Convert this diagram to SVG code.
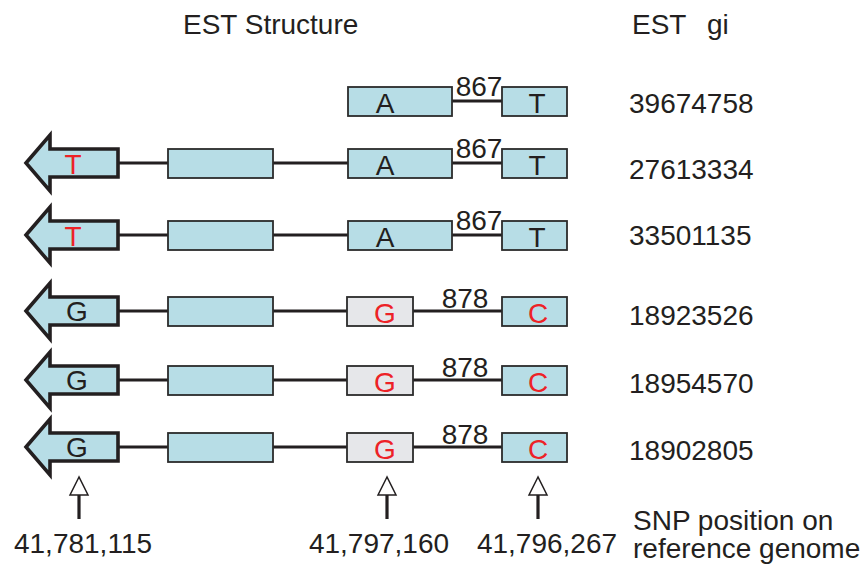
<svg xmlns="http://www.w3.org/2000/svg" width="863" height="581" viewBox="0 0 863 581">
<style>
text{font-family:"Liberation Sans",Arial,sans-serif;font-size:28px;fill:#231f20}
.red{fill:#ed2227}
.mid{text-anchor:middle}
.box{fill:#b7dde6;stroke:#2b2b2b;stroke-width:1.8}
.gbox{fill:#e6e7ea;stroke:#2b2b2b;stroke-width:1.8}
.arr{fill:#b7dde6;stroke:#231f20;stroke-width:3.6;stroke-linejoin:miter}
.ln{stroke:#231f20;stroke-width:3.2;fill:none}
.up{fill:#fff;stroke:#231f20;stroke-width:1.5}
</style>
<defs>
<polygon id="arrowShape" class="arr" points="26,0 50,-28 50,-14 118,-14 118,14 50,14 50,28"/>
<g id="snpArrow"><line class="ln" x1="0" y1="495" x2="0" y2="519"/><polygon class="up" points="0,477 -9,495 9,495"/></g>
</defs>
<text x="183" y="34">EST Structure</text>
<text x="632" y="34">EST</text>
<text x="707" y="34">gi</text>
<g id="connectors">
<line class="ln" x1="452" y1="101" x2="502" y2="101"/>
<line class="ln" x1="118" y1="163" x2="168" y2="163"/><line class="ln" x1="273" y1="163" x2="348" y2="163"/><line class="ln" x1="452" y1="163" x2="502" y2="163"/>
<line class="ln" x1="118" y1="235" x2="168" y2="235"/><line class="ln" x1="273" y1="235" x2="348" y2="235"/><line class="ln" x1="452" y1="235" x2="502" y2="235"/>
<line class="ln" x1="118" y1="311" x2="168" y2="311"/><line class="ln" x1="273" y1="311" x2="348" y2="311"/><line class="ln" x1="413" y1="311" x2="502" y2="311"/>
<line class="ln" x1="118" y1="380" x2="168" y2="380"/><line class="ln" x1="273" y1="380" x2="348" y2="380"/><line class="ln" x1="413" y1="380" x2="502" y2="380"/>
<line class="ln" x1="118" y1="447" x2="168" y2="447"/><line class="ln" x1="273" y1="447" x2="348" y2="447"/><line class="ln" x1="413" y1="447" x2="502" y2="447"/>
</g>
<g id="row1">
<rect class="box" x="348" y="87" width="104" height="29"/><text class="mid" x="385" y="113">A</text>
<rect class="box" x="502" y="87" width="65" height="29"/><text class="mid" x="537" y="113">T</text>
<text class="mid" x="479" y="96">867</text>
<text x="629" y="113">39674758</text>
</g>
<g id="row2">
<use href="#arrowShape" y="163"/><text class="mid red" x="73" y="174">T</text>
<rect class="box" x="168" y="149" width="105" height="29"/>
<rect class="box" x="348" y="149" width="104" height="29"/><text class="mid" x="385" y="175">A</text>
<rect class="box" x="502" y="149" width="65" height="29"/><text class="mid" x="537" y="175">T</text>
<text class="mid" x="479" y="158">867</text>
<text x="629" y="179">27613334</text>
</g>
<g id="row3">
<use href="#arrowShape" y="235"/><text class="mid red" x="73" y="246">T</text>
<rect class="box" x="168" y="221" width="105" height="29"/>
<rect class="box" x="348" y="221" width="104" height="29"/><text class="mid" x="385" y="247">A</text>
<rect class="box" x="502" y="221" width="65" height="29"/><text class="mid" x="537" y="247">T</text>
<text class="mid" x="479" y="230">867</text>
<text x="629" y="245">33501135</text>
</g>
<g id="row4">
<use href="#arrowShape" y="311"/><text class="mid" x="77" y="321">G</text>
<rect class="box" x="168" y="297" width="105" height="29"/>
<rect class="gbox" x="347" y="297" width="66" height="29"/><text class="mid red" x="385" y="323">G</text>
<rect class="box" x="502" y="297" width="65" height="29"/><text class="mid red" x="538" y="323">C</text>
<text class="mid" x="465" y="308">878</text>
<text x="629" y="325">18923526</text>
</g>
<g id="row5">
<use href="#arrowShape" y="380"/><text class="mid" x="77" y="390">G</text>
<rect class="box" x="168" y="366" width="105" height="29"/>
<rect class="gbox" x="347" y="366" width="66" height="29"/><text class="mid red" x="385" y="392">G</text>
<rect class="box" x="502" y="366" width="65" height="29"/><text class="mid red" x="538" y="392">C</text>
<text class="mid" x="465" y="377">878</text>
<text x="629" y="393">18954570</text>
</g>
<g id="row6">
<use href="#arrowShape" y="447"/><text class="mid" x="77" y="457">G</text>
<rect class="box" x="168" y="433" width="105" height="29"/>
<rect class="gbox" x="347" y="433" width="66" height="29"/><text class="mid red" x="385" y="459">G</text>
<rect class="box" x="502" y="433" width="65" height="29"/><text class="mid red" x="538" y="459">C</text>
<text class="mid" x="465" y="444">878</text>
<text x="629" y="460">18902805</text>
</g>
<g id="snp1"><use href="#snpArrow" x="79"/><text class="mid" x="83" y="553">41,781,115</text></g>
<g id="snp2"><use href="#snpArrow" x="387"/><text class="mid" x="379" y="553">41,797,160</text></g>
<g id="snp3"><use href="#snpArrow" x="538"/><text class="mid" x="547" y="553">41,796,267</text></g>
<g id="legend">
<text x="633" y="530">SNP position on</text>
<text x="633" y="558">reference genome</text>
</g>
</svg>
